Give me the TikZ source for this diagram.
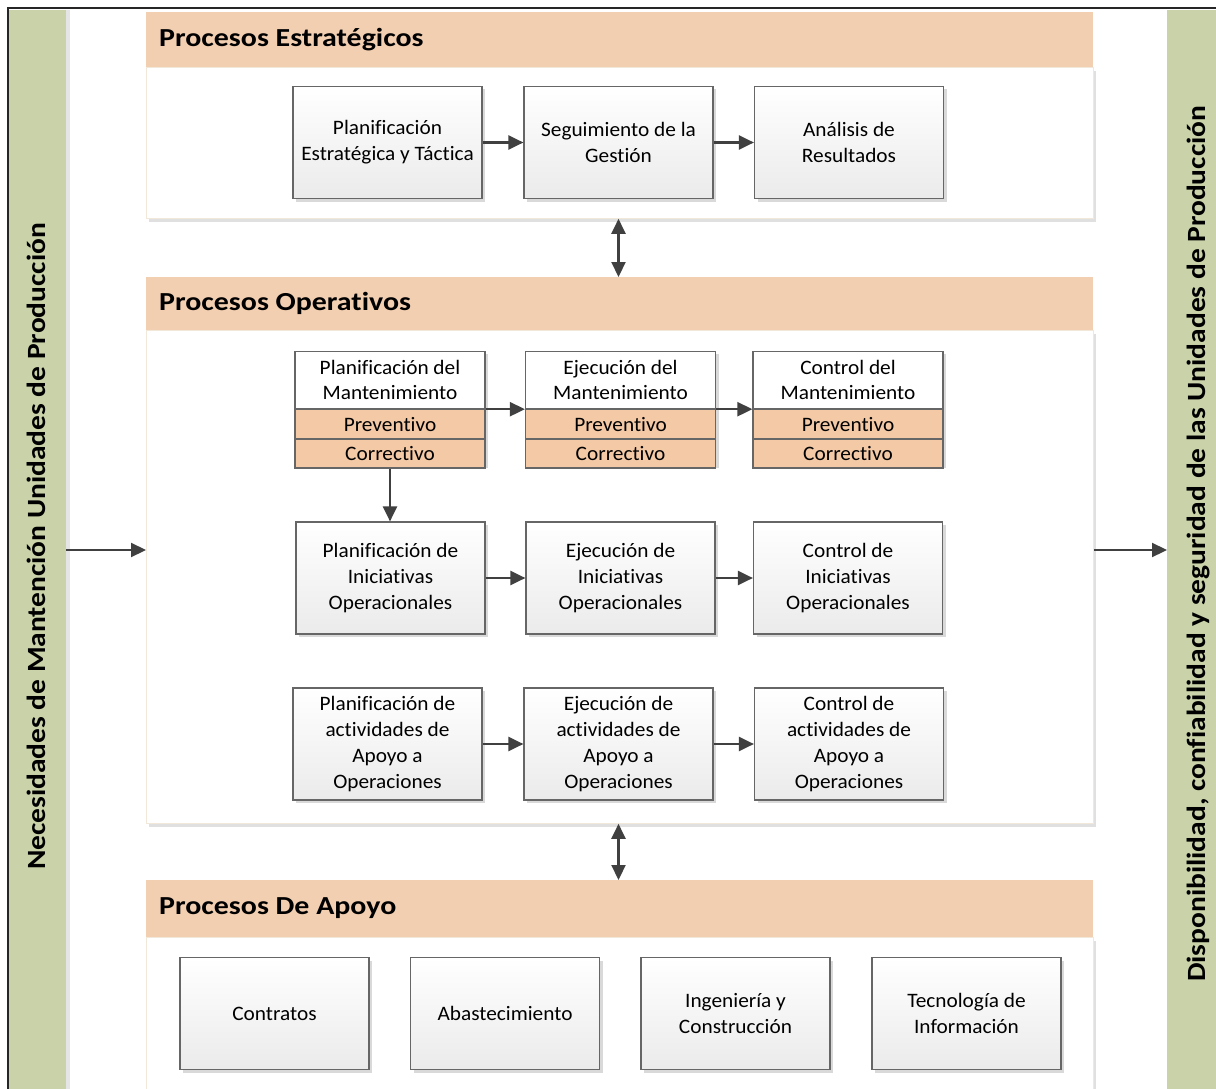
\documentclass[tikz,border=0pt]{standalone}
\usepackage{fontspec}
\setmainfont[Ligatures=NoCommon]{Carlito}
\newfontfamily\bodyfont[Ligatures=NoCommon, FakeStretch=1.04]{Carlito}
\newfontfamily\headfont[Ligatures=NoCommon, FakeStretch=1.15]{Carlito}
\newfontfamily\sidefont[Ligatures=NoCommon, FakeStretch=1.12]{Carlito}
\usetikzlibrary{arrows.meta,shadows}
\definecolor{hdr}{HTML}{F3CFB1}
\definecolor{cell}{HTML}{F4C9A6}
\definecolor{sidebar}{HTML}{C9D2A8}
\definecolor{edge}{HTML}{666666}
\definecolor{arrowc}{HTML}{404040}
\definecolor{bodyedge}{HTML}{F2E8DA}
\tikzset{
  secthead/.style={fill=hdr, draw=none, anchor=north west, inner sep=0pt},
  sectbody/.style={fill=white, draw=bodyedge, line width=0.8pt, anchor=north west, inner sep=0pt,
    drop shadow={shadow xshift=3pt, shadow yshift=-4pt, fill=black!12, opacity=1}},
  headtxt/.style={font=\headfont\fontsize{26}{30}\selectfont\bfseries, anchor=west, inner sep=0pt},
  procbox/.style={draw=edge, line width=1.2pt, top color=white, bottom color=black!8,
    minimum width=189pt, minimum height=112pt, align=center, inner sep=2pt,
    font=\bodyfont\fontsize{20.5}{26}\selectfont,
    drop shadow={shadow xshift=3pt, shadow yshift=-3pt, fill=black!15, opacity=1}},
  toppart/.style={draw=edge, line width=1.2pt, fill=white, minimum width=190pt, minimum height=57pt,
    align=center, inner sep=0pt, font=\bodyfont\fontsize{20.5}{25}\selectfont, anchor=north},
  cellpart/.style={draw=edge, line width=1.2pt, fill=cell, minimum width=190pt, minimum height=28.5pt,
    inner sep=0pt, font=\bodyfont\fontsize{20.5}{24}\selectfont, anchor=north},
  flow/.style={draw=arrowc, line width=2.2pt, -{Triangle[length=15pt,width=14pt]}},
  flow2/.style={draw=arrowc, line width=2.2pt, {Triangle[length=15pt,width=14pt]}-{Triangle[length=15pt,width=14pt]}},
  sidetxt/.style={font=\sidefont\fontsize{26.3}{30}\selectfont\bfseries, rotate=90, inner sep=0pt, anchor=base}
}
\begin{document}
\begin{tikzpicture}[x=1pt,y=-1pt]
\useasboundingbox (0,0) rectangle (1216,1089);
\fill[white] (0,0) rectangle (1216,1089);

% side bars
\fill[sidebar] (9,10) rectangle (66,1089);
\fill[black!10] (66,10) rectangle (70,1089);
\fill[sidebar] (1167,10) rectangle (1216,1089);
\node[inner sep=0pt, minimum width=57pt, minimum height=1079pt, anchor=north west] (lbar) at (9,10) {};
\node[inner sep=0pt, minimum width=49pt, minimum height=1079pt, anchor=north west] (rbar) at (1167,10) {};
\node[sidetxt] (ltxt) at (45,546.5) {Necesidades de Mantención Unidades de Producción};
\node[sidetxt] (rtxt) at (1205,544) {Disponibilidad, confiabilidad y seguridad de las Unidades de Producción};

% frame
\draw[black!85, line width=2pt] (8,1089) -- (8,8) -- (1216,8);

% section: strategic
\node[sectbody, minimum width=947pt, minimum height=151pt] (strat) at (146,67) {};
\node[secthead, minimum width=947pt, minimum height=55pt] (strath) at (146,12) {};
\node[headtxt] (strattxt) at (159,39.5) {Procesos Estratégicos};

% section: operative
\node[sectbody, minimum width=947pt, minimum height=493pt] (oper) at (146,330) {};
\node[secthead, minimum width=947pt, minimum height=53pt] (operh) at (146,277) {};
\node[headtxt] (opertxt) at (159,303.5) {Procesos Operativos};

% section: support
\node[sectbody, minimum width=947pt, minimum height=160pt] (apoyo) at (146,937) {};
\node[secthead, minimum width=947pt, minimum height=57pt] (apoyoh) at (146,880) {};
\node[headtxt] (apoyotxt) at (159,908.5) {Procesos De Apoyo};

% strategic processes
\node[procbox] (s1) at (387.5,142.5) {Planificación\\Estratégica y Táctica};
\node[procbox] (s2) at (618.5,142.5) {Seguimiento de la\\Gestión};
\node[procbox] (s3) at (849,142.5) {Análisis de\\Resultados};
\draw[flow] (s1) -- (s2);
\draw[flow] (s2) -- (s3);

% maintenance processes
\foreach \n/\x/\t in {m1/390/{Planificación del\\Mantenimiento}, m2/620.5/{Ejecución del\\Mantenimiento}, m3/848/{Control del\\Mantenimiento}}{
  \fill[black!15] (\x-92,354) rectangle (\x+98,468);
  \node[toppart] (\n t) at (\x,351) {\t};
  \node[cellpart] (\n p) at (\n t.south) {Preventivo};
  \node[cellpart] (\n c) at (\n p.south) {Correctivo};
}
\draw[flow] (m1t.south east) -- (m2t.south west);
\draw[flow] (m2t.south east) -- (m3t.south west);

% operational initiatives
\node[procbox] (i1) at (390.5,578) {Planificación de\\Iniciativas\\Operacionales};
\node[procbox] (i2) at (620.5,578) {Ejecución de\\Iniciativas\\Operacionales};
\node[procbox] (i3) at (848,578) {Control de\\Iniciativas\\Operacionales};
\draw[flow] (m1c.south) -- (m1c.south |- i1.north);
\draw[flow] (i1) -- (i2);
\draw[flow] (i2) -- (i3);

% support activities
\node[procbox] (a1) at (387.5,744) {Planificación de\\actividades de\\Apoyo a\\Operaciones};
\node[procbox] (a2) at (618.5,744) {Ejecución de\\actividades de\\Apoyo a\\Operaciones};
\node[procbox] (a3) at (849,744) {Control de\\actividades de\\Apoyo a\\Operaciones};
\draw[flow] (a1) -- (a2);
\draw[flow] (a2) -- (a3);

% support processes
\node[procbox] (p1) at (274.5,1013.5) {Contratos};
\node[procbox] (p2) at (505,1013.5) {Abastecimiento};
\node[procbox] (p3) at (735.5,1013.5) {Ingeniería y\\Construcción};
\node[procbox] (p4) at (966.5,1013.5) {Tecnología de\\Información};

% links between sections
\draw[flow2] (s2.south |- strat.south) -- (s2.south |- operh.north);
\draw[flow2] (s2.south |- oper.south) -- (s2.south |- apoyoh.north);

% input and output
\coordinate (io) at (0,550);
\draw[flow] (lbar.east |- io) -- (oper.west |- io);
\draw[flow] (oper.east |- io) -- (rbar.west |- io);
\end{tikzpicture}
\end{document}
